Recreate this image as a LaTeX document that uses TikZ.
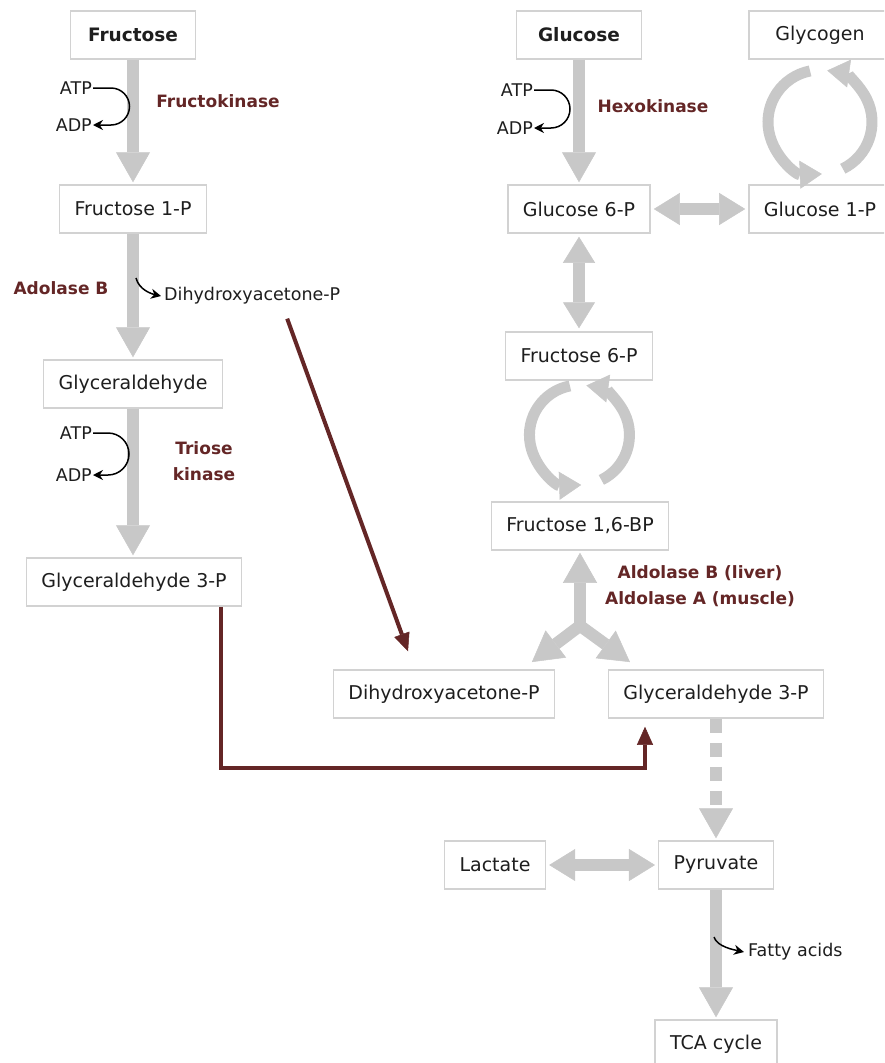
\documentclass[tikz,border=0pt]{standalone}
\usepackage{fontspec}
\setmainfont{DejaVu Sans}
\usetikzlibrary{arrows.meta, calc}

\definecolor{flowgray}{RGB}{200,200,200}
\definecolor{boxgray}{RGB}{210,210,210}
\definecolor{enzred}{RGB}{100,38,38}
\definecolor{txtblack}{RGB}{30,30,30}

\begin{document}
\begin{tikzpicture}[x=1pt, y=-1pt,
    every node/.style={text=txtblack},
    box/.style={draw=boxgray, fill=white, line width=1.5pt, minimum height=48pt, inner xsep=15pt, font=\fontsize{19}{22}\selectfont},
    title/.style={box, minimum width=125pt, font=\fontsize{18.5}{22}\selectfont\bfseries},
    cofactor/.style={inner sep=1pt, font=\fontsize{17.5}{20}\selectfont},
    enzyme/.style={text=enzred, align=center, inner sep=1pt, font=\fontsize{17}{26}\selectfont\bfseries},
    flow/.style={draw=flowgray, line width=12pt, shorten >=2pt, -{Triangle[width=34pt,length=30pt,line width=0.5pt]}},
    flowboth/.style={draw=flowgray, line width=12pt, shorten >=3pt, shorten <=3pt, {Triangle[width=32pt,length=26pt,line width=0.5pt]}-{Triangle[width=32pt,length=26pt,line width=0.5pt]}},
    turnover/.style={draw=flowgray, line width=11pt, -{Triangle[width=28pt,length=22pt,line width=0.5pt]}},
    sidearrow/.style={draw=black, line width=1.5pt, -{Stealth[length=10pt,width=10pt]}},
    shunt/.style={draw=enzred, line width=4pt, -{Triangle[width=16pt,length=18pt,line width=0.5pt]}}
]
\useasboundingbox (0,0) rectangle (884,1063);
\clip (0,0) rectangle (884,1063);
\fill[white] (0,0) rectangle (884,1063);

% fructose branch
\node[title] (fru) at (133,35) {Fructose};
\node[box] (f1p) at (133,209) {Fructose 1-P};
\node[box] (gald) at (133,384) {Glyceraldehyde};
\node[box] (ga3p) at (134,582) {Glyceraldehyde 3-P};

% glycolysis
\node[title] (glc) at (579,35) {Glucose};
\node[box, minimum width=142pt] (gly) at (820,35) {Glycogen};
\node[box] (g6p) at (579,209) {Glucose 6-P};
\node[box, minimum width=142pt] (g1p) at (820,209) {Glucose 1-P};
\node[box] (f6p) at (579,356) {Fructose 6-P};
\node[box] (fbp) at (580,526) {Fructose 1,6-BP};
\node[box] (dhap) at (444,694) {Dihydroxyacetone-P};
\node[box] (g3p) at (716,694) {Glyceraldehyde 3-P};
\node[box] (lac) at (495,865) {Lactate};
\node[box] (pyr) at (716,865) {Pyruvate};
\node[box] (tca) at (716,1044) {TCA cycle};

% side products and enzymes
\node[cofactor, anchor=east] (atp1) at (93,88) {ATP};
\node[cofactor, anchor=east] (adp1) at (93,125) {ADP};
\node[cofactor, anchor=east] (atp2) at (93,433) {ATP};
\node[cofactor, anchor=east] (adp2) at (93,475) {ADP};
\node[cofactor, anchor=east] (atp3) at (534,90) {ATP};
\node[cofactor, anchor=east] (adp3) at (534,128) {ADP};
\node[cofactor, anchor=west] (dhap0) at (163,296) {Dihydroxyacetone-P};
\node[cofactor, anchor=west] (fat) at (747,952) {Fatty acids};
\node[enzyme] (fk) at (218,101) {Fructokinase};
\node[enzyme] (aldb) at (61,288) {Adolase B};
\node[enzyme] (tk) at (204,461) {Triose\\kinase};
\node[enzyme] (hk) at (653,106) {Hexokinase};
\node[enzyme] (alda) at (700,586) {Aldolase B (liver)\\Aldolase A (muscle)};

% grey flow
\draw[flow] (fru) -- (f1p);
\draw[flow] (f1p) -- (gald);
\draw[flow] (gald) -- (ga3p.north -| gald);
\draw[flow] (glc) -- (g6p);
\draw[flowboth] (g6p) -- (g1p);
\draw[flowboth] (g6p) -- (f6p);
\coordinate (glyc) at ($(gly.south)!0.5!(g1p.north)$);
\draw[turnover] ($(glyc)+(259:52)$) arc[start angle=259, end angle=88, radius=52];
\draw[turnover] ($(glyc)+(64:52)$) arc[start angle=64, end angle=-82, radius=52];
\coordinate (fruc) at ($(f6p.south)!0.45!(fbp.north)$);
\draw[turnover] ($(fruc)+(259:50)$) arc[start angle=259, end angle=88, radius=50];
\draw[turnover] ($(fruc)+(64:50)$) arc[start angle=64, end angle=-82, radius=50];
\coordinate (split) at ($(fbp.south)+(0,75)$);
\draw[flow] ($(split)+(0,6)$) -- (fbp.south);
\draw[flow] (split) -- ($(dhap.north east)+(-25,-6)$);
\draw[flow] (split) -- ($(g3p.north west)+(24,-6)$);
\draw[flow, dash pattern=on 14pt off 10pt] (g3p) -- (pyr);
\draw[flowboth] (lac) -- (pyr);
\draw[flow] (pyr) -- (tca);

% ATP / ADP and side branches
\draw[sidearrow] (atp1.east) -- ++(18,0) arc[start angle=-90, end angle=90, radius=18.5] -- (adp1.east);
\draw[sidearrow] (atp2.east) -- ++(15,0) arc[start angle=-90, end angle=90, radius=21] -- (adp2.east);
\draw[sidearrow] (atp3.east) -- ++(17,0) arc[start angle=-90, end angle=90, radius=19] -- (adp3.east);
\draw[sidearrow] ($(dhap0.west)+(-27,-18)$) .. controls +(3,12) and +(-9,-2) .. ([xshift=-2pt]dhap0.west);
\draw[sidearrow] ($(fat.west)+(-33,-15)$) .. controls +(3,10) and +(-9,-2) .. ([xshift=-3pt]fat.west);

% fructose products feeding glycolysis
\coordinate (dhapin) at ($(dhap.north)+(-36,-18)$);
\draw[shunt] ($(dhap0.south)+(35,13)$) -- (dhapin);
\draw[shunt] ($(ga3p.south)+(87,0)$) -- ++(0,161) -| ($(g3p.south)+(-71,8)$);
\end{tikzpicture}
\end{document}
